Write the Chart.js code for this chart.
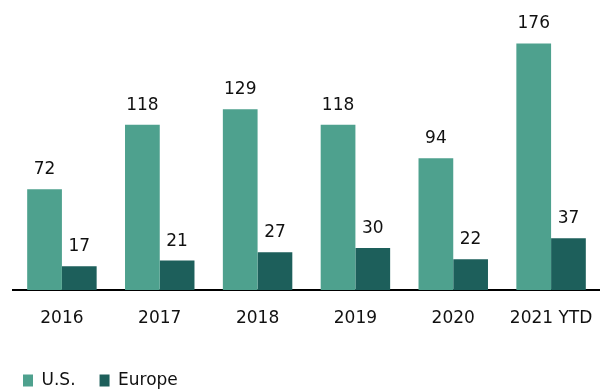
<!DOCTYPE html>
<html>
<head>
<meta charset="utf-8">
<script src="https://cdn.jsdelivr.net/npm/chart.js@4"></script>
<style>
  html, body { margin: 0; padding: 0; background: #fff; }
  #wrap { width: 600px; height: 389px; }
</style>
</head>
<body>
<div id="wrap"><canvas id="chart"></canvas></div>
<script>
// カテゴリと系列データ
const years = ['2016', '2017', '2018', '2019', '2020', '2021 YTD'];
const usValues = [72, 118, 129, 118, 94, 176];
const europeValues = [17, 21, 27, 30, 22, 37];

const FONT = "'DejaVu Sans', sans-serif";

// 棒の上に数値を描く
const valueLabels = {
    id: 'valueLabels',
    afterDatasetsDraw(chart) {
        const ctx = chart.ctx;
        ctx.save();
        ctx.font = '17px ' + FONT;
        ctx.fillStyle = '#111';
        ctx.textAlign = 'center';
        ctx.textBaseline = 'bottom';
        chart.data.datasets.forEach((ds, i) => {
            chart.getDatasetMeta(i).data.forEach((bar, j) => {
                ctx.fillText(String(ds.data[j]), bar.x, bar.y - 11);
            });
        });
        ctx.restore();
    }
};

// 凡例の位置を微調整（項目間隔を広げた分だけ左へ戻す）
const legendShift = {
    id: 'legendShift',
    afterLayout(chart) {
        chart.legend.left -= 14;
    }
};

new Chart(document.getElementById('chart'), {
    type: 'bar',
    data: {
        labels: years,
        datasets: [
            { label: 'U.S.', data: usValues, backgroundColor: '#4ea18e' },
            { label: 'Europe', data: europeValues, backgroundColor: '#1d5f5b' },
        ],
    },
    options: {
        responsive: true,
        maintainAspectRatio: false,
        animation: false,
        layout: { padding: { left: 13, right: 0, top: 0, bottom: -10 } },
        categoryPercentage: 0.71,
        barPercentage: 1,
        scales: {
            x: {
                grid: { display: false, drawTicks: false },
                border: { color: '#000', width: 2 },
                ticks: { color: '#111', font: { family: FONT, size: 17, lineHeight: 3 }, padding: 3 },
                afterFit: (scale) => { scale.height = 58; },
            },
            y: {
                display: false,
                min: 0,
                max: 207,
            },
        },
        plugins: {
            legend: {
                position: 'bottom',
                align: 'start',
                labels: {
                    boxWidth: 10,
                    boxHeight: 12,
                    padding: 24,
                    color: '#111',
                    font: { family: FONT, size: 17 },
                },
            },
            tooltip: { enabled: false },
        },
    },
    plugins: [valueLabels, legendShift],
});
</script>
</body>
</html>
